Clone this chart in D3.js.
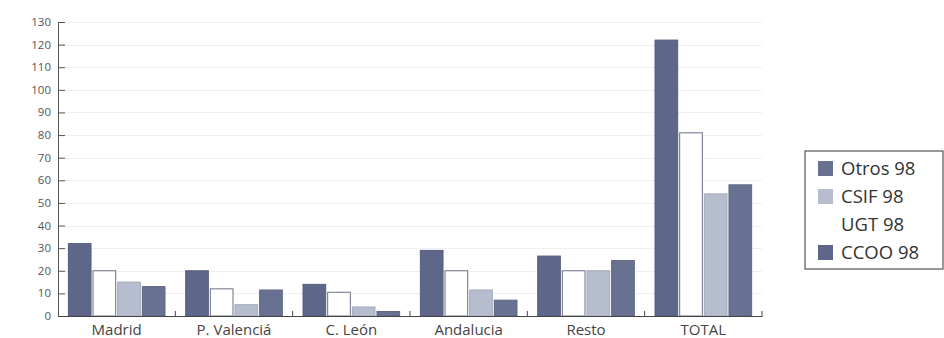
<!DOCTYPE html>
<html><head><meta charset="utf-8">
<script src="https://cdn.jsdelivr.net/npm/d3@7"></script>
<style>body{margin:0;background:#fff}svg{display:block}</style>
</head><body>
<svg id="c" width="944" height="338"></svg>
<script>
const categories = ["Madrid", "P. Valenciá", "C. León", "Andalucia", "Resto", "TOTAL"];
const seriesNames = ["CCOO 98", "UGT 98", "CSIF 98", "Otros 98"];
const ccoo98  = [32, 20, 14, 29, 26.5, 122];
const ugt98   = [20, 12, 10.5, 20, 20, 81];
const csif98  = [15, 5, 4, 11.5, 20, 54];
const otros98 = [13, 11.5, 2, 7, 24.5, 58];
const yTicks = [0,10,20,30,40,50,60,70,80,90,100,110,120,130];
const legendOrder = ["Otros 98", "CSIF 98", "UGT 98", "CCOO 98"];

const values = {"CCOO 98": ccoo98, "UGT 98": ugt98, "CSIF 98": csif98, "Otros 98": otros98};
const colors = {"CCOO 98": "#5e6789", "UGT 98": "#ffffff", "CSIF 98": "#b6bdce", "Otros 98": "#687192"};

const svg = d3.select("#c");
const m = {left: 58, right: 182, top: 22, bottom: 22};
const W = 944, H = 338;
const x0 = d3.scaleBand().domain(categories).range([m.left, W - m.right]).paddingInner(0).paddingOuter(0);
const x1 = d3.scaleBand().domain(seriesNames).range([0, x0.bandwidth()]).paddingOuter(0.4).paddingInner(0.04);
const y = d3.scaleLinear().domain([0, 130]).range([H - m.bottom, m.top]);

// faint gridlines
svg.append("g").selectAll("line").data(yTicks.filter(d => d > 0)).join("line")
  .attr("x1", m.left).attr("x2", W - m.right)
  .attr("y1", d => Math.round(y(d)) + 0.5).attr("y2", d => Math.round(y(d)) + 0.5)
  .attr("stroke", "#efefef").attr("stroke-width", 1);

// bars
const g = svg.append("g");
categories.forEach((c, i) => {
  seriesNames.forEach(s => {
    const v = values[s][i];
    g.append("rect")
      .attr("x", x0(c) + x1(s) + 0.5)
      .attr("y", y(v))
      .attr("width", x1.bandwidth() - 1)
      .attr("height", y(0) - y(v))
      .attr("fill", colors[s])
      .attr("stroke", s === "UGT 98" ? "#6a7088" : d3.color(colors[s]).darker(0.3))
      .attr("stroke-width", 1);
  });
});

// y axis
const ya = svg.append("g").attr("transform", `translate(${m.left},0)`)
  .call(d3.axisRight(y).tickValues(yTicks).tickSize(7).tickFormat(""));
ya.select(".domain").attr("stroke", "#555");
ya.selectAll(".tick line").attr("stroke", "#555");
svg.append("g").selectAll("text").data(yTicks).join("text")
  .attr("x", 51).attr("y", d => y(d)).attr("dy", "0.35em")
  .attr("text-anchor", "end")
  .attr("font-family", "Open Sans, sans-serif").attr("font-size", 11.5)
  .attr("fill", "#555").text(d => d);

// x axis
const xa = svg.append("g").attr("transform", `translate(0,${y(0)})`)
  .call(d3.axisBottom(x0).tickSize(0).tickPadding(8));
xa.select(".domain").attr("stroke", "#444");
xa.selectAll("text").attr("font-family", "Open Sans, sans-serif").attr("font-size", 15).attr("fill", "#444");
svg.append("g").selectAll("line").data(categories).join("line")
  .attr("x1", d => x0(d) + x0.bandwidth()).attr("x2", d => x0(d) + x0.bandwidth())
  .attr("y1", y(0)).attr("y2", y(0) - 5).attr("stroke", "#444");

// legend
const lg = svg.append("g").attr("transform", "translate(805,151)");
lg.append("rect").attr("width", 138).attr("height", 118).attr("fill", "#fff").attr("stroke", "#333");
legendOrder.forEach((s, i) => {
  const yy = 18 + i * 28;
  if (s !== "UGT 98") {
    lg.append("rect").attr("x", 13).attr("y", yy - 8).attr("width", 15).attr("height", 15).attr("fill", colors[s]);
  }
  lg.append("text").attr("x", 36).attr("y", yy).attr("dy", "0.35em")
    .attr("font-family", "Open Sans, sans-serif").attr("font-size", 18.5).attr("fill", "#333").text(s);
});
</script>
</body></html>
